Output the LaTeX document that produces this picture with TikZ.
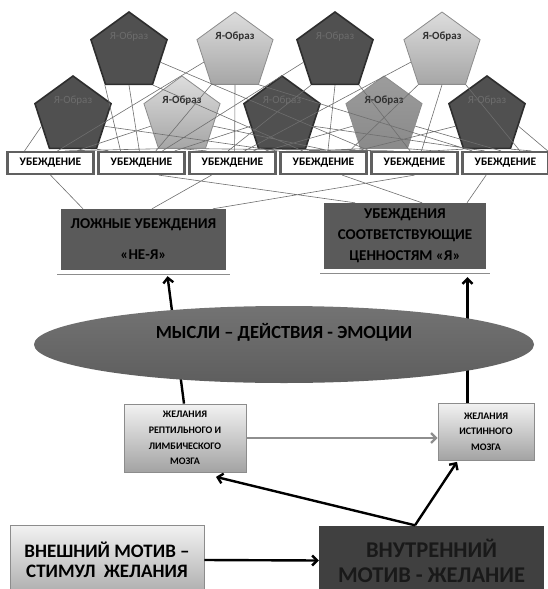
\documentclass[tikz,border=0pt]{standalone}
\usepackage{fontspec}
\setmainfont{Carlito}
\usetikzlibrary{arrows.meta, positioning, shapes.geometric}
\definecolor{pentdark}{HTML}{505050}
\definecolor{pentedge}{HTML}{2E2E2E}
\definecolor{pentlight}{HTML}{DDDDDD}
\definecolor{pentlightlow}{HTML}{A6A6A6}
\definecolor{pentmid}{HTML}{9C9C9C}
\definecolor{pentmidlow}{HTML}{8A8A8A}
\definecolor{lightedge}{HTML}{8C8C8C}
\definecolor{darklabel}{HTML}{6C6C6C}
\definecolor{lightlabel}{HTML}{303030}
\definecolor{beliefedge}{HTML}{606060}
\definecolor{boxdark}{HTML}{5A5A5A}
\definecolor{webline}{HTML}{6E6E6E}
\definecolor{thoughttop}{HTML}{737373}
\definecolor{thoughtlow}{HTML}{5E5E5E}
\definecolor{wishtop}{HTML}{F2F2F2}
\definecolor{wishlow}{HTML}{A3A3A3}
\definecolor{coredark}{HTML}{404040}
\definecolor{arrowgray}{HTML}{8E8E8E}
\tikzset{
  pentbase/.style={
    regular polygon,
    regular polygon sides=5,
    minimum size=80pt,
    inner sep=0pt
  },
  darkpent/.style={
    pentbase,
    draw=pentedge,
    line width=1.6pt,
    fill=pentdark,
    label={[font=\fontsize{11}{13}\selectfont, text=darklabel, yshift=15pt]center:Я-Образ}
  },
  lightpent/.style={
    pentbase,
    draw=lightedge,
    line width=0.8pt,
    top color=pentlight,
    bottom color=pentlightlow,
    label={[font=\bfseries\fontsize{11}{13}\selectfont, text=lightlabel, yshift=15pt]center:Я-Образ}
  },
  midpent/.style={
    pentbase,
    draw=lightedge,
    line width=0.8pt,
    top color=pentmid,
    bottom color=pentmidlow,
    label={[font=\bfseries\fontsize{11}{13}\selectfont, text=lightlabel, yshift=15pt]center:Я-Образ}
  },
  belief/.style={
    rectangle,
    draw=beliefedge,
    line width=2.2pt,
    fill=white,
    minimum width=86pt,
    minimum height=22pt,
    inner sep=0pt,
    font=\bfseries\fontsize{11.5}{13}\selectfont
  },
  verdict/.style={
    rectangle,
    fill=boxdark,
    align=center,
    minimum width=165pt,
    minimum height=61pt,
    inner sep=0pt,
    font=\bfseries\fontsize{15}{21}\selectfont
  },
  shelf/.style={draw=lightedge, line width=0.9pt},
  thought/.style={
    ellipse,
    top color=thoughttop,
    bottom color=thoughtlow,
    minimum width=500pt,
    minimum height=77pt,
    inner sep=0pt,
    label={[font=\bfseries\fontsize{18.5}{22}\selectfont, yshift=12.5pt]center:МЫСЛИ – ДЕЙСТВИЯ - ЭМОЦИИ}
  },
  wishbox/.style={
    rectangle,
    draw=lightedge,
    line width=0.8pt,
    top color=wishtop,
    bottom color=wishlow,
    align=center,
    inner sep=0pt,
    font=\bfseries\fontsize{10}{15.6}\selectfont
  },
  motivebox/.style={
    rectangle,
    draw=lightedge,
    line width=0.8pt,
    top color=wishtop,
    bottom color=wishlow!90,
    align=center,
    minimum width=194pt,
    minimum height=70pt,
    inner sep=0pt,
    font=\bfseries\fontsize{19}{19.5}\selectfont
  },
  corebox/.style={
    rectangle,
    fill=coredark,
    align=center,
    minimum width=225pt,
    minimum height=70pt,
    inner sep=0pt,
    text=black!90,
    font=\bfseries\fontsize{22.5}{25}\selectfont
  },
  web/.style={draw=webline, line width=0.6pt},
  bigarrow/.style={-{Straight Barb[length=5pt, width=10pt]}, line width=2.4pt},
  grayarrow/.style={-{Straight Barb[length=5pt, width=10pt]}, line width=2.2pt, draw=arrowgray}
}
\begin{document}
\begin{tikzpicture}[x=1pt, y=-1pt, node distance=2.8pt]
  \useasboundingbox (0,0) rectangle (547,589);

  % self-images
  \node[darkpent] (p1) at (129,52) {};
  \node[lightpent] (p2) at (235,52) {};
  \node[darkpent] (p3) at (335,52) {};
  \node[lightpent] (p4) at (442,52) {};
  \node[darkpent] (p5) at (73,116) {};
  \node[lightpent] (p6) at (182,116) {};
  \node[darkpent] (p7) at (282,116) {};
  \node[midpent] (p8) at (384,116) {};
  \node[darkpent] (p9) at (487,116) {};

  % beliefs
  \node[belief] (b1) at (50.5,163) {УБЕЖДЕНИЕ};
  \node[belief, right=of b1] (b2) {УБЕЖДЕНИЕ};
  \node[belief, right=of b2] (b3) {УБЕЖДЕНИЕ};
  \node[belief, right=of b3] (b4) {УБЕЖДЕНИЕ};
  \node[belief, right=of b4] (b5) {УБЕЖДЕНИЕ};
  \node[belief, right=of b5] (b6) {УБЕЖДЕНИЕ};

  \draw[web]
    (p5.side 2) -- (b1.155)
    (p5.corner 4) -- (b2.160)
    (p5.side 4) -- (b4.165)
    (p1.corner 3) -- (b2.150)
    (p1.side 3) -- (b2.100)
    (p1.corner 4) -- (b4.150)
    (p1.side 4) -- (b5.165)
    (p6.side 2) -- (b1.25)
    (p6.corner 3) -- (b1.40)
    (p6.side 3) -- (b3.155)
    (p6.corner 4) -- (b5.155)
    (p6.side 4) -- (b4.60)
    (p2.side 2) -- (b1.60)
    (p2.corner 3) -- (b2.40)
    (p2.side 3) -- (b3.80)
    (p2.corner 4) -- (b6.160)
    (p7.side 2) -- (b2.20)
    (p7.corner 3) -- (b3.30)
    (p7.corner 4) -- (b4.120)
    (p7.side 3) -- (b5.150)
    (p7.side 4) -- (b6.150)
    (p3.side 2) -- (b2.30)
    (p3.corner 3) -- (b3.110)
    (p3.side 3) -- (b4.70)
    (p3.corner 4) -- (b5.110)
    (p8.side 2) -- (b3.20)
    (p8.corner 3) -- (b4.140)
    (p8.corner 4) -- (b5.30)
    (p8.side 4) -- (b6.110)
    (p4.side 2) -- (b3.45)
    (p4.corner 3) -- (b4.25)
    (p4.side 3) -- (b5.60)
    (p4.corner 4) -- (b6.40)
    (p9.side 2) -- (b4.20)
    (p9.corner 3) -- (b5.35)
    (p9.corner 4) -- (b6.25)
    (p9.side 4) -- (b6.16);

  % two kinds of beliefs
  \node[verdict] (lbox) at (143.5,239.5) {ЛОЖНЫЕ УБЕЖДЕНИЯ\\[10pt]«НЕ-Я»};
  \node[verdict, minimum width=162pt, minimum height=66pt] (rbox) at (405,236)
    {УБЕЖДЕНИЯ\\СООТВЕТСТВУЮЩИЕ\\ЦЕННОСТЯМ «Я»};
  \draw[shelf] ([xshift=-3.5pt, yshift=-4pt]lbox.south west) -- ([xshift=3.5pt, yshift=-4pt]lbox.south east);
  \draw[shelf] ([xshift=-3.5pt, yshift=-4pt]rbox.south west) -- ([xshift=3.5pt, yshift=-4pt]rbox.south east);

  \draw[web]
    (b1.south) -- ([xshift=-60.5pt]lbox.north)
    (b3.210) -- ([xshift=8.5pt]lbox.north)
    (b5.south) -- ([xshift=69.5pt]lbox.north)
    (b2.-35) -- ([xshift=-50pt]rbox.north)
    (b4.-33) -- ([xshift=17pt]rbox.north)
    (b6.-148) -- ([xshift=62pt]rbox.north);

  % desires
  \node[wishbox, minimum width=122pt, minimum height=68pt] (dlbox) at (185,438)
    {ЖЕЛАНИЯ\\РЕПТИЛЬНОГО И\\ЛИМБИЧЕСКОГО\\МОЗГА};
  \node[wishbox, minimum width=96pt, minimum height=57pt] (drbox) at (486,431.5)
    {ЖЕЛАНИЯ\\ИСТИННОГО\\МОЗГА};

  \draw[bigarrow] ([xshift=-1pt]dlbox.north) -- ([xshift=24pt, yshift=-6pt]lbox.south);
  \draw[bigarrow] ([xshift=-18.5pt]drbox.north) -- ([xshift=62.5pt, yshift=-8pt]rbox.south);

  \node[thought] (mind) at (284,344.5) {};

  \draw[grayarrow] (dlbox.east) -- (dlbox.east -| drbox.west);

  % motives
  \node[motivebox] (ext) at (107,560) {ВНЕШНИЙ МОТИВ –\\СТИМУЛ\ \ ЖЕЛАНИЯ};
  \node[corebox] (int) at (431.5,560.5) {ВНУТРЕННИЙ\\МОТИВ - ЖЕЛАНИЕ};

  \draw[bigarrow] (ext.east) -- (int.west);
  \draw[bigarrow] ([xshift=-16.5pt]int.north) -- ([xshift=31pt, yshift=-4.5pt]dlbox.south);
  \draw[bigarrow] ([xshift=-16.5pt]int.north) -- ([xshift=-29pt, yshift=-1.5pt]drbox.south);
\end{tikzpicture}
\end{document}
